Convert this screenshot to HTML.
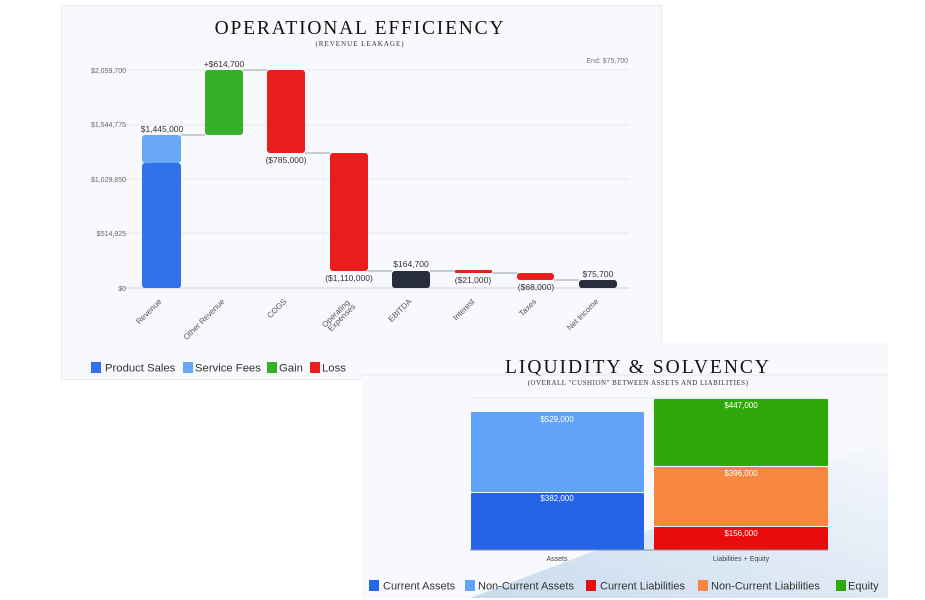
<!DOCTYPE html>
<html><head><meta charset="utf-8"><style>
body{margin:0;width:925px;height:600px;background:#fff;overflow:hidden;position:relative;font-family:"Liberation Sans",sans-serif}
svg{position:absolute;left:0;top:0}
</style></head><body>
<svg width="925" height="600" viewBox="0 0 925 600">
<defs><linearGradient id="g" x1="0" y1="1" x2="1" y2="0"><stop offset="0" stop-color="#bcd3ea"/><stop offset="1" stop-color="#f6f8fc"/></linearGradient></defs>
<rect x="61.5" y="5.5" width="600" height="374" fill="#f8f9fc" stroke="#e6e8ee"/>
<text x="360" y="34" text-anchor="middle" font-family="Liberation Serif,serif" font-size="19.5" letter-spacing="1.8" fill="#111">OPERATIONAL  EFFICIENCY</text>
<text x="360" y="46" text-anchor="middle" font-family="Liberation Serif,serif" font-size="7" letter-spacing="1" fill="#333">(REVENUE  LEAKAGE)</text>
<g stroke="#e4e7ee" stroke-width="1">
<line x1="122" y1="70" x2="629" y2="70"/><line x1="122" y1="125" x2="629" y2="125"/><line x1="122" y1="179" x2="629" y2="179"/><line x1="122" y1="233" x2="629" y2="233"/><line x1="122" y1="288" x2="629" y2="288" stroke="#cfd4dc"/>
</g>
<g font-size="7" fill="#666" text-anchor="end">
<text x="126" y="73">$2,059,700</text><text x="126" y="127">$1,544,775</text><text x="126" y="182">$1,029,850</text><text x="126" y="236">$514,925</text><text x="126" y="291">$0</text>
</g>
<text x="628" y="63" font-size="7" fill="#777" text-anchor="end">End: $75,700</text>
<g stroke="#b8bec8" stroke-width="1.5">
<line x1="181" y1="135" x2="205" y2="135"/><line x1="243" y1="70" x2="267" y2="70"/><line x1="305" y1="153" x2="330" y2="153"/><line x1="368" y1="271" x2="392" y2="271"/><line x1="430" y1="271" x2="455" y2="271"/><line x1="492" y1="273" x2="517" y2="273"/><line x1="554" y1="280" x2="579" y2="280"/>
</g>
<rect x="142" y="163" width="39" height="125" rx="3" fill="#2f72ea"/>
<rect x="142" y="135" width="39" height="28" rx="3" fill="#68a8f7"/>
<rect x="205" y="70" width="38" height="65" rx="3" fill="#36af2a"/>
<rect x="267" y="70" width="38" height="83" rx="3" fill="#ea1d1d"/>
<rect x="330" y="153" width="38" height="118" rx="3" fill="#ea1d1d"/>
<rect x="392" y="271" width="38" height="17" rx="3" fill="#272d3b"/>
<rect x="455" y="270" width="37" height="3" rx="1" fill="#ea1d1d"/>
<rect x="517" y="273" width="37" height="7" rx="3" fill="#ea1d1d"/>
<rect x="579" y="280" width="38" height="8" rx="3" fill="#272d3b"/>
<g font-size="8.5" fill="#333" text-anchor="middle">
<text x="162" y="132">$1,445,000</text><text x="224" y="67">+$614,700</text><text x="286" y="163">($785,000)</text><text x="349" y="281">($1,110,000)</text><text x="411" y="267">$164,700</text><text x="473" y="283">($21,000)</text><text x="536" y="290">($68,000)</text><text x="598" y="277">$75,700</text>
</g>
<g font-size="8" fill="#555" text-anchor="end">
<text transform="translate(162,302) rotate(-45)">Revenue</text>
<text transform="translate(225,302) rotate(-45)">Other Revenue</text>
<text transform="translate(287,302) rotate(-45)">COGS</text>
<text transform="translate(350,303) rotate(-45)">Operating</text>
<text transform="translate(356,307) rotate(-45)">Expenses</text>
<text transform="translate(412,302) rotate(-45)">EBITDA</text>
<text transform="translate(475,302) rotate(-45)">Interest</text>
<text transform="translate(537,302) rotate(-45)">Taxes</text>
<text transform="translate(599,302) rotate(-45)">Net Income</text>
</g>
<g font-size="11.3" fill="#333">
<rect x="91" y="362" width="10" height="11" fill="#2f72ea"/><text x="105" y="371.5">Product Sales</text>
<rect x="183" y="362" width="10" height="11" fill="#68a8f7"/><text x="195" y="371.5">Service Fees</text>
<rect x="267" y="362" width="10" height="11" fill="#36af2a"/><text x="279" y="371.5">Gain</text>
<rect x="310" y="362" width="10" height="11" fill="#ea1d1d"/><text x="322" y="371.5">Loss</text>
</g>
<rect x="362" y="343" width="526" height="255" fill="#f8f9fc"/>
<polygon points="470,598 888,440 888,598" fill="url(#g)" opacity="0.8"/>
<text x="638" y="373" text-anchor="middle" font-family="Liberation Serif,serif" font-size="19.5" letter-spacing="2" fill="#111">LIQUIDITY  &amp;  SOLVENCY</text>
<text x="638" y="385" text-anchor="middle" font-family="Liberation Serif,serif" font-size="7" letter-spacing="0.5" fill="#333">(OVERALL "CUSHION" BETWEEN ASSETS AND LIABILITIES)</text>
<line x1="362" y1="375" x2="888" y2="375" stroke="#e6e8ee"/>
<line x1="470" y1="398" x2="828" y2="398" stroke="#e4e7ee"/>
<rect x="471" y="412" width="173" height="80" rx="1" fill="#62a3f8"/>
<rect x="471" y="493" width="173" height="57" rx="1" fill="#2563e8"/>
<rect x="654" y="399" width="174" height="67" rx="1" fill="#2fa90a"/>
<rect x="654" y="467" width="174" height="59" rx="1" fill="#f78740"/>
<rect x="654" y="527" width="174" height="23" rx="1" fill="#e80c0c"/>
<line x1="470" y1="550" x2="828" y2="550" stroke="#8a9099"/>
<g font-size="8" fill="#fff" text-anchor="middle">
<text x="557" y="422">$529,000</text><text x="557" y="501">$382,000</text><text x="741" y="408">$447,000</text><text x="741" y="476">$396,000</text><text x="741" y="536">$156,000</text>
</g>
<g font-size="7" fill="#444" text-anchor="middle"><text x="557" y="561">Assets</text><text x="741" y="561">Liabilities + Equity</text></g>
<g font-size="11" fill="#333">
<rect x="369" y="580" width="10" height="11" fill="#2563e8"/><text x="383" y="589.5">Current Assets</text>
<rect x="465" y="580" width="10" height="11" fill="#62a3f8"/><text x="478" y="589.5">Non-Current Assets</text>
<rect x="586" y="580" width="10" height="11" fill="#e80c0c"/><text x="600" y="589.5">Current Liabilities</text>
<rect x="698" y="580" width="10" height="11" fill="#f78740"/><text x="711" y="589.5">Non-Current Liabilities</text>
<rect x="836" y="580" width="10" height="11" fill="#2fa90a"/><text x="848" y="589.5">Equity</text>
</g>
</svg>
</body></html>
